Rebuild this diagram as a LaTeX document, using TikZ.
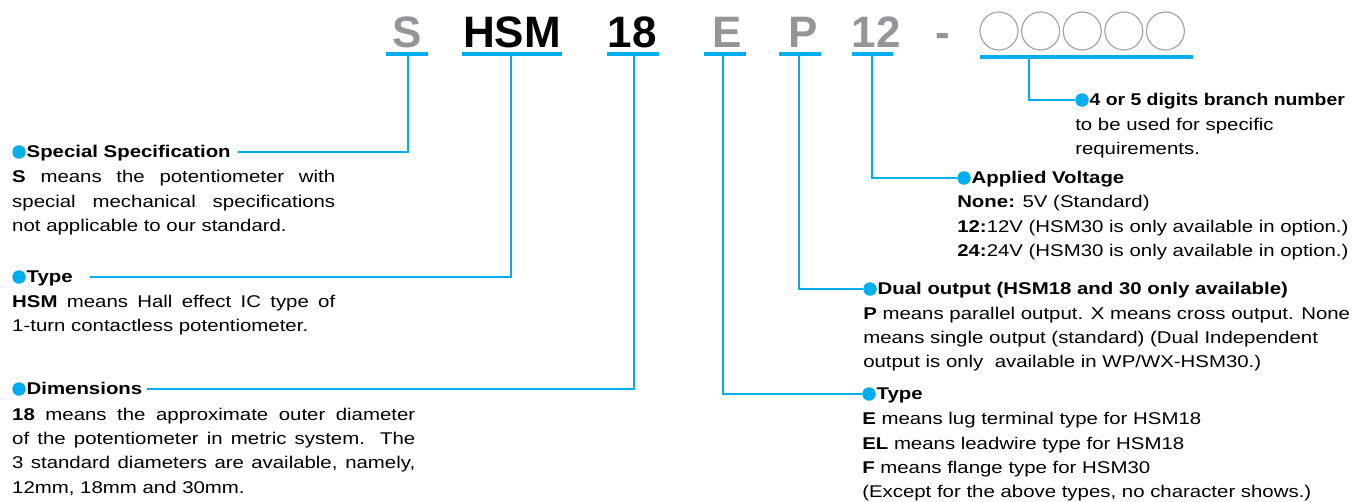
\documentclass[tikz,border=0pt]{standalone}
\usepackage{fontspec}
\usepackage{graphicx}
\setmainfont{Liberation Sans}
\newfontfamily\txtfont{Liberation Sans}[FakeStretch=1.2]
\usetikzlibrary{positioning}
\definecolor{cyanline}{RGB}{0,174,239}
\definecolor{codegray}{RGB}{147,149,152}
\definecolor{ringgray}{RGB}{165,165,168}
\newcommand{\jline}[2]{\makebox[#1][s]{#2}}
\tikzset{
  code/.style={font=\fontsize{44}{44}\selectfont\bfseries, anchor=base, inner sep=0pt},
  ring/.style={circle, draw=ringgray, line width=1.2pt, minimum size=38pt, inner sep=0pt},
  bar/.style={cyanline, line width=4pt},
  lead/.style={cyanline, line width=1.1pt},
  dot/.style={circle, fill=cyanline, inner sep=0pt, minimum size=13.5pt},
  head/.style={font=\txtfont\fontsize{17}{24}\selectfont\bfseries, inner sep=0pt, text height=12.5pt, text depth=1pt},
  body/.style={font=\txtfont\fontsize{17}{24.3}\selectfont, inner sep=0pt, align=left, anchor=base west},
}
\begin{document}
\begin{tikzpicture}[x=1pt,y=-1pt]
\useasboundingbox (0,0) rectangle (1356,501);

% part number
\node[code,codegray] (cS) at (407,47) {S};
\node[code] (cHSM) at (512,47) {HSM};
\node[code] (c18) at (632,47) {18};
\node[code,codegray] (cE) at (727,47) {E};
\node[code,codegray] (cP) at (803,47) {P};
\node[code,codegray] (c12) at (876,47) {12};
\node[code,codegray] (cDash) at (943,47) {-};
\foreach \i in {0,...,4}
  \node[ring] (ring\i) at (999+41.6*\i,31) {};

% bars
\draw[bar] (386,54) -- (428,54);
\draw[bar] (462,54) -- (562,54);
\draw[bar] (607,54) -- (659,54);
\draw[bar] (704,54) -- (746,54);
\draw[bar] (779,54) -- (821,54);
\draw[bar] (852,54) -- (893,54);
\draw[bar] (980,57) -- (1193,57);

\coordinate (tS) at (408,56);
\coordinate (tHSM) at (511,56);
\coordinate (t18) at (634,56);
\coordinate (tE) at (723,56);
\coordinate (tP) at (799,56);
\coordinate (t12) at (872,56);
\coordinate (tRing) at (1029,59);

% left column (body base = last line)
\node[dot] (dSpec) at (19,152) {};
\node[head, right=0.5pt of dSpec] (hSpec) {Special Specification};
\node[body] (bSpec) at ([yshift=-73.6pt]hSpec.base -| dSpec.west)
  {\jline{323pt}{\textbf{S} means the potentiometer with}\\
   \jline{323pt}{special mechanical specifications}\\
   not applicable to our standard.};

\node[dot] (dType) at (19,277) {};
\node[head, right=0.5pt of dType] (hType) {Type};
\node[body] (bType) at ([yshift=-48.8pt]hType.base -| dType.west)
  {\jline{323pt}{\textbf{HSM} means Hall effect IC type of}\\
   1-turn contactless potentiometer.};

\node[dot] (dDim) at (19,389) {};
\node[head, right=0.5pt of dDim] (hDim) {Dimensions};
\node[body] (bDim) at ([yshift=-98.4pt]hDim.base -| dDim.west)
  {\jline{403pt}{\textbf{18} means the approximate outer diameter}\\
   \jline{403pt}{of the potentiometer in metric system. The}\\
   \jline{403pt}{3 standard diameters are available, namely,}\\
   12mm, 18mm and 30mm.};

% right column
\node[dot] (dBranch) at (1082,100) {};
\node[head, right=0.5pt of dBranch] (hBranch) {\scalebox{0.95}[1]{4 or 5 digits branch number}};
\node[body] (bBranch) at ([yshift=-48.6pt]hBranch.base -| dBranch.west)
  {to be used for specific\\requirements.};

\node[dot] (dVolt) at (964,178) {};
\node[head, right=0.5pt of dVolt] (hVolt) {Applied Voltage};
\node[body] (bVolt) at ([yshift=-72.6pt]hVolt.base -| dVolt.west)
  {\textbf{None:} 5V (Standard)\\
   \textbf{12:}12V (HSM30 is only available in option.)\\
   \textbf{24:}24V (HSM30 is only available in option.)};

\node[dot] (dDual) at (870,289) {};
\node[head, right=0.5pt of dDual] (hDual) {Dual output (HSM18 and 30 only available)};
\node[body] (bDual) at ([yshift=-73.1pt]hDual.base -| dDual.west)
  {\textbf{P} means parallel output. X means cross output. None\\
   means single output (standard) (Dual Independent\\
   output is only\ \ available in WP/WX-HSM30.)};

\node[dot] (dTerm) at (869,394) {};
\node[head, right=0.5pt of dTerm] (hTerm) {Type};
\node[body] (bTerm) at ([yshift=-97.9pt]hTerm.base -| dTerm.west)
  {\textbf{E} means lug terminal type for HSM18\\
   \textbf{EL} means leadwire type for HSM18\\
   \textbf{F} means flange type for HSM30\\
   (Except for the above types, no character shows.)};

% leaders
\draw[lead] (tS) |- ([xshift=7pt]hSpec.east);
\draw[lead] (tHSM) |- ([xshift=17pt]hType.east);
\draw[lead] (t18) |- ([xshift=5pt]hDim.east);
\draw[lead] (tRing) |- (dBranch.west);
\draw[lead] (t12) |- (dVolt.west);
\draw[lead] (tP) |- (dDual.west);
\draw[lead] (tE) |- (dTerm.west);
\end{tikzpicture}
\end{document}
